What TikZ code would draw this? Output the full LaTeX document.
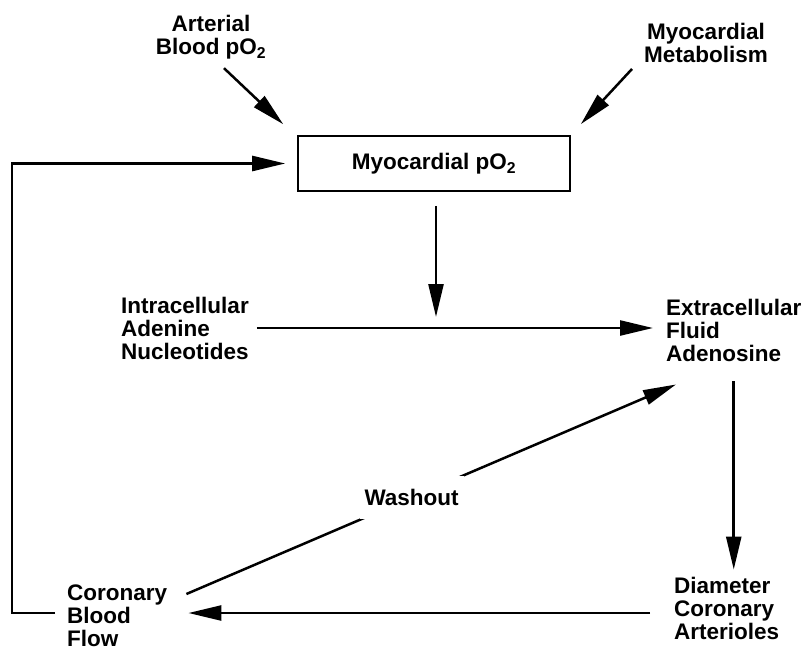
\documentclass[tikz,border=0pt]{standalone}
\usepackage{fontspec}
\setmainfont{Liberation Sans}
\usepackage{tikz}
\usetikzlibrary{arrows.meta, positioning}

\begin{document}
\begin{tikzpicture}[
        x=1pt, y=-1pt,
        every node/.style={font=\bfseries\fontsize{22.5}{23}\selectfont},
        lbl/.style={align=left, inner sep=0pt},
        clbl/.style={align=center, inner sep=0pt},
        box/.style={rectangle, draw=black, line width=1.6pt, minimum width=272pt, minimum height=55pt},
        arrow/.style={-{Triangle[length=33pt, width=15pt]}, line width=2.5pt}
    ]
        \useasboundingbox (0,0) rectangle (809,654);

        \node[clbl] (art) at (211,37) {Arterial\\Blood pO\textsubscript{2}};
        \node[clbl] (met) at (706,43) {Myocardial\\Metabolism};
        \node[box] (myo) at (434,163.5) {Myocardial pO\textsubscript{2}};
        \node[lbl, anchor=west] (inn) at (121,328) {Intracellular\\Adenine\\Nucleotides};
        \node[lbl, anchor=west] (ext) at (666,330) {Extracellular\\Fluid\\Adenosine};
        \node[lbl, anchor=west] (dia) at (674,608) {Diameter\\Coronary\\Arterioles};
        \node[lbl, anchor=west] (cbf) at (67,616) {Coronary\\Blood\\Flow};

        \draw[arrow] ([shift={(13,9)}]art.south) -- ([shift={(-14,-11)}]myo.north west);
        \draw[arrow] ([shift={(-74,6)}]met.south) -- ([shift={(10,-11)}]myo.north east);
        \draw[arrow, shorten <=14pt, shorten >=11pt] ([xshift=2pt]myo.south) -- ([xshift=2pt]myo.south |- inn.east);
        \draw[arrow, shorten <=8pt, shorten >=13pt] (inn.east) -- (inn.east -| ext.west);
        \draw[arrow, shorten <=20pt, shorten >=7pt] (ext.south) -- (ext.south |- dia.north);
        \draw[arrow, shorten <=24pt, shorten >=21pt] ([yshift=-5pt]dia.west) -- ([yshift=-5pt]dia.west -| cbf.east);
        \draw[arrow] ([shift={(19,-22)}]cbf.east) -- node[pos=0.46, fill=white, inner xsep=5pt, inner ysep=13pt] (wash) {Washout} ([shift={(10,23)}]ext.south west);
        \draw[arrow, shorten >=12pt] ([shift={(-12,-3)}]cbf.west) -| ([xshift=-285pt]myo.west) -- (myo.west);
    \end{tikzpicture}
\end{document}
